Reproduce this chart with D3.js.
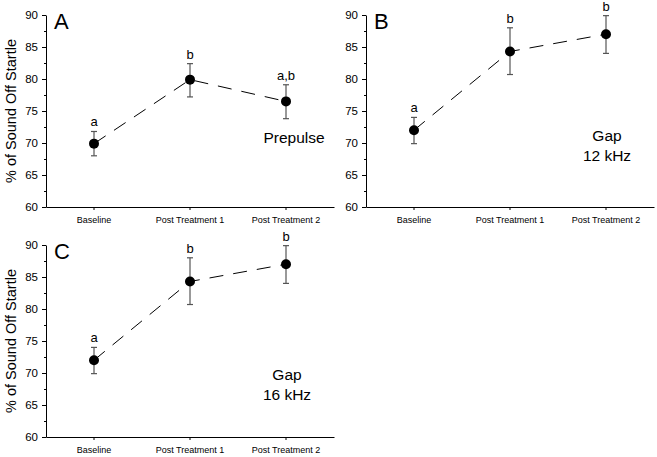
<!DOCTYPE html>
<html>
<head>
<meta charset="utf-8">
<script src="https://cdn.jsdelivr.net/npm/d3@7"></script>
<style>
  body { margin: 0; background: #fff; }
  svg { font-family: Arial, 'Liberation Sans', sans-serif; }
</style>
</head>
<body>
<div id="chart"></div>
<script>
const categories = ['Baseline', 'Post Treatment 1', 'Post Treatment 2']
const yTicks = [60, 65, 70, 75, 80, 85, 90]
const yMinorTicks = [62.5, 67.5, 72.5, 77.5, 82.5, 87.5]

// A: prepulse
const meansA = [69.9, 79.9, 76.5]
const lowA = [68.0, 77.2, 73.8]
const highA = [71.8, 82.4, 79.1]
const lettersA = ['a', 'b', 'a,b']

// B: gap 12 kHz
const meansB = [72.0, 84.3, 87.0]
const lowB = [69.9, 80.7, 84.0]
const highB = [74.0, 88.0, 89.9]
const lettersB = ['a', 'b', 'b']

// C: gap 16 kHz
const meansC = [72.0, 84.3, 87.0]
const lowC = [69.9, 80.7, 84.0]
const highC = [74.0, 88.0, 89.9]
const lettersC = ['a', 'b', 'b']

const width = 657
const height = 457

const svg = d3.select('#chart')
  .append('svg')
  .attr('width', width)
  .attr('height', height)

function drawPanel(opts) {
  let g = svg.append('g')

  let x = d3.scaleBand()
    .domain(categories)
    .range([opts.left, opts.left + 288])

  let y = d3.scaleLinear()
    .domain([60, 90])
    .range([opts.top + 192, opts.top])

  let cx = function(d, i) { return x(categories[i]) + x.bandwidth() / 2 }

  // y axis, major + minor ticks
  let yAxis = g.append('g')
    .attr('transform', `translate(${opts.left},0)`)
    .call(d3.axisLeft(y).tickValues(yTicks).tickSize(4).tickSizeOuter(0).tickPadding(4))
    .attr('font-family', null)
    .attr('font-size', 11.5)
  yAxis.selectAll('text').attr('fill', '#000')

  g.append('g')
    .attr('transform', `translate(${opts.left},0)`)
    .call(d3.axisLeft(y).tickValues(yMinorTicks).tickSize(2).tickSizeOuter(0).tickFormat(''))
    .select('.domain').remove()

  // x axis
  let xAxis = g.append('g')
    .attr('transform', `translate(0,${opts.top + 192})`)
    .call(d3.axisBottom(x).tickSize(3).tickSizeOuter(0).tickPadding(7))
    .attr('font-family', null)
    .attr('font-size', 9)
  xAxis.selectAll('text').attr('fill', '#000')

  // dashed connecting line
  let line = d3.line()
    .x(cx)
    .y(function(d) { return y(d) })

  g.append('path')
    .datum(opts.means)
    .attr('d', line)
    .attr('fill', 'none')
    .attr('stroke', '#000')
    .attr('stroke-width', 1)
    .attr('stroke-dasharray', '14,10')

  // error bars
  let bars = g.selectAll('.err')
    .data(opts.means)
    .enter()
    .append('g')
    .attr('class', 'err')
    .attr('stroke', '#555')
    .attr('stroke-width', 1.2)

  bars.append('line')
    .attr('x1', cx).attr('x2', cx)
    .attr('y1', function(d, i) { return y(opts.low[i]) })
    .attr('y2', function(d, i) { return y(opts.high[i]) })
  bars.append('line')
    .attr('x1', function(d, i) { return cx(d, i) - 3 })
    .attr('x2', function(d, i) { return cx(d, i) + 3 })
    .attr('y1', function(d, i) { return y(opts.low[i]) })
    .attr('y2', function(d, i) { return y(opts.low[i]) })
  bars.append('line')
    .attr('x1', function(d, i) { return cx(d, i) - 3 })
    .attr('x2', function(d, i) { return cx(d, i) + 3 })
    .attr('y1', function(d, i) { return y(opts.high[i]) })
    .attr('y2', function(d, i) { return y(opts.high[i]) })

  // points
  g.selectAll('.dot')
    .data(opts.means)
    .enter()
    .append('circle')
    .attr('class', 'dot')
    .attr('cx', cx)
    .attr('cy', function(d) { return y(d) })
    .attr('r', 5)
    .attr('fill', '#000')

  // significance letters
  g.selectAll('.letter')
    .data(opts.letters)
    .enter()
    .append('text')
    .attr('class', 'letter')
    .attr('x', function(d, i) { return cx(d, i) })
    .attr('y', function(d, i) { return y(opts.high[i]) - 5 })
    .attr('text-anchor', 'middle')
    .attr('font-size', 13)
    .attr('fill', '#000')
    .text(function(d) { return d })

  // panel letter
  g.append('text')
    .attr('x', opts.left + 8)
    .attr('y', opts.top + 14)
    .attr('font-size', 22)
    .attr('fill', '#000')
    .text(opts.label)

  // condition label
  g.append('text')
    .attr('x', opts.noteX)
    .attr('y', opts.top + opts.noteY)
    .attr('text-anchor', 'middle')
    .attr('font-size', 15.5)
    .attr('fill', '#000')
    .selectAll('tspan')
    .data(opts.note)
    .enter()
    .append('tspan')
    .attr('x', opts.noteX)
    .attr('dy', function(d, i) { return i === 0 ? 0 : 19.5 })
    .text(function(d) { return d })

  if (opts.yTitle) {
    g.append('text')
      .attr('transform', `translate(16,${opts.top + 96}) rotate(-90)`)
      .attr('text-anchor', 'middle')
      .attr('font-size', 14.5)
      .attr('fill', '#000')
      .text('% of Sound Off Startle')
  }
}

drawPanel({ left: 46, top: 15, label: 'A', means: meansA, low: lowA, high: highA, letters: lettersA,
  note: ['Prepulse'], noteX: 294, noteY: 128, yTitle: true })
drawPanel({ left: 366, top: 15, label: 'B', means: meansB, low: lowB, high: highB, letters: lettersB,
  note: ['Gap', '12 kHz'], noteX: 607, noteY: 126, yTitle: false })
drawPanel({ left: 46, top: 245, label: 'C', means: meansC, low: lowC, high: highC, letters: lettersC,
  note: ['Gap', '16 kHz'], noteX: 287, noteY: 135, yTitle: true })
</script>
</body>
</html>
